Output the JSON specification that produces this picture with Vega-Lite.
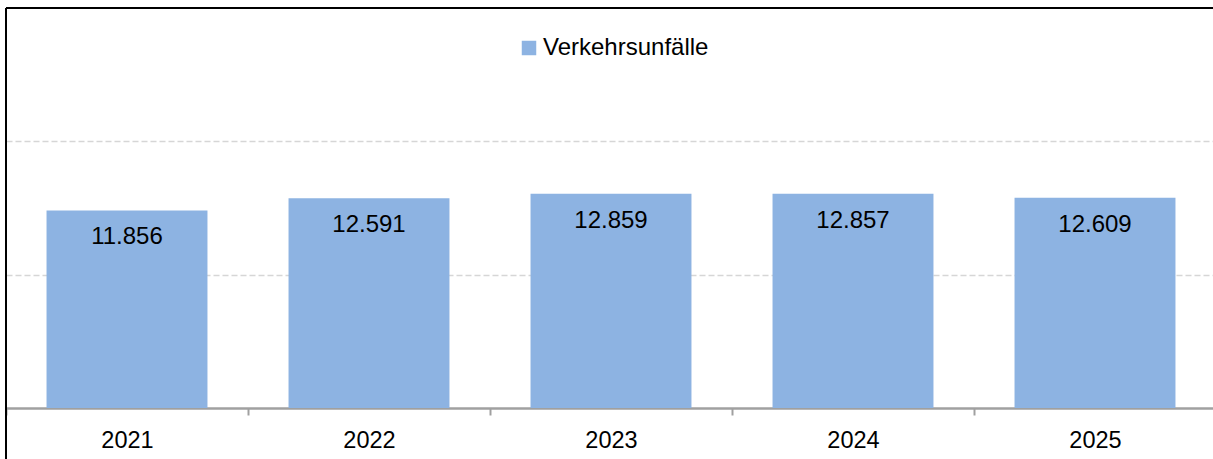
{
  "$schema": "https://vega.github.io/schema/vega-lite/v6.json",
  "width": 1210,
  "height": 400,
  "autosize": {"type": "none"},
  "padding": {"left": 6, "top": 8, "right": 3, "bottom": 51},
  "background": "white",
  "config": {
    "view": {"stroke": null},
    "font": "Liberation Sans",
    "locale": {"number": {"decimal": ",", "thousands": ".", "grouping": [3], "currency": ["", " €"]}}
  },
  "datasets": {
    "unfaelle": [
      {"year": "2021", "value": 11856, "series": "Verkehrsunfälle"},
      {"year": "2022", "value": 12591, "series": "Verkehrsunfälle"},
      {"year": "2023", "value": 12859, "series": "Verkehrsunfälle"},
      {"year": "2024", "value": 12857, "series": "Verkehrsunfälle"},
      {"year": "2025", "value": 12609, "series": "Verkehrsunfälle"}
    ],
    "frame": [
      {"year": "2021", "bottom": -3200, "top": 24000}
    ]
  },
  "layer": [
    {
      "data": {"name": "unfaelle"},
      "mark": {"type": "bar", "width": {"band": 0.665}},
      "encoding": {
        "x": {
          "field": "year",
          "type": "nominal",
          "scale": {"paddingInner": 0, "paddingOuter": 0},
          "axis": {
            "title": null,
            "labelAngle": 0,
            "labelFont": "Liberation Sans",
            "labelFontSize": 23.5,
            "labelColor": "black",
            "labelPadding": 13,
            "tickBand": "extent",
            "tickSize": 7,
            "tickWidth": 2,
            "tickColor": "#a0a0a0",
            "domainColor": "#a0a0a0",
            "domainWidth": 2.5,
            "grid": false
          }
        },
        "y": {
          "field": "value",
          "type": "quantitative",
          "scale": {"domain": [0, 24000]},
          "axis": {
            "title": null,
            "labels": false,
            "ticks": false,
            "domain": false,
            "values": [8000, 16000],
            "grid": true,
            "gridColor": "#d6d6d6",
            "gridWidth": 1.5,
            "gridDash": [6, 3]
          }
        },
        "color": {
          "field": "series",
          "type": "nominal",
          "scale": {"range": ["#8DB3E2"]},
          "legend": {
            "title": null,
            "orient": "none",
            "legendX": 511,
            "legendY": 28,
            "padding": 0,
            "symbolType": "square",
            "symbolSize": 210,
            "symbolStrokeWidth": 0,
            "symbolOffset": 0,
            "labelFont": "Liberation Sans",
            "labelFontSize": 24,
            "labelColor": "black",
            "labelOffset": 2,
            "labelLimit": 400
          }
        }
      }
    },
    {
      "data": {"name": "unfaelle"},
      "mark": {"type": "text", "baseline": "middle", "dy": 27, "font": "Liberation Sans", "fontSize": 24, "color": "black"},
      "encoding": {
        "x": {"field": "year", "type": "nominal"},
        "y": {"field": "value", "type": "quantitative"},
        "text": {"field": "value", "type": "quantitative", "format": ",d"}
      }
    },
    {
      "data": {"name": "frame"},
      "mark": {"type": "rule", "color": "black", "strokeWidth": 2},
      "encoding": {
        "y": {"field": "top", "type": "quantitative"}
      }
    },
    {
      "data": {"name": "frame"},
      "mark": {"type": "rule", "color": "black", "strokeWidth": 2},
      "encoding": {
        "x": {"field": "year", "type": "nominal", "bandPosition": 0},
        "y": {"field": "bottom", "type": "quantitative"},
        "y2": {"field": "top"}
      }
    }
  ]
}
